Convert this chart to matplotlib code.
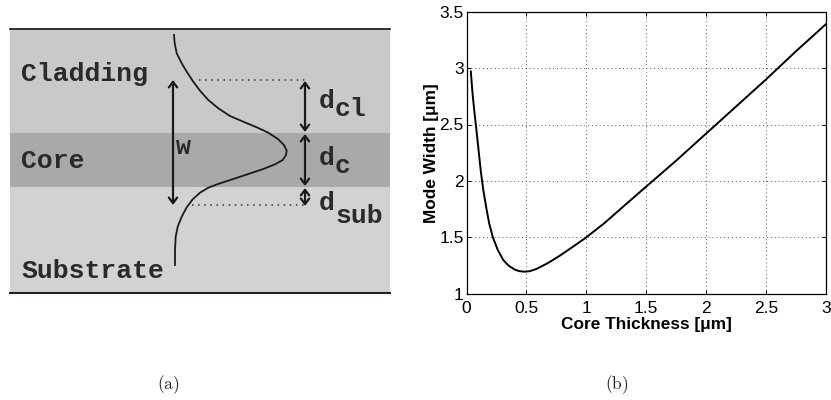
import matplotlib
matplotlib.use('Agg')
import matplotlib.pyplot as plt

W, H = 831, 400

# right panel: mode width vs core thickness
core_thickness = [0.036, 0.05, 0.065, 0.083, 0.10, 0.12, 0.14, 0.167, 0.19, 0.22, 0.26, 0.306, 0.35, 0.40, 0.44,
                  0.487, 0.53, 0.585, 0.68, 0.78, 0.90, 1.0, 1.15, 1.3, 1.5, 1.75, 2.0, 2.25, 2.5, 2.75, 3.0]
mode_width = [2.97, 2.78, 2.62, 2.45, 2.28, 2.08, 1.92, 1.75, 1.62, 1.50, 1.39, 1.30, 1.25, 1.215, 1.20,
              1.195, 1.20, 1.22, 1.272, 1.338, 1.425, 1.50, 1.625, 1.765, 1.95, 2.18, 2.42, 2.66, 2.90, 3.15, 3.39]
x_ticks = [0, 0.5, 1, 1.5, 2, 2.5, 3]
x_tick_labels = ['0', '0.5', '1', '1.5', '2', '2.5', '3']
y_ticks = [1, 1.5, 2, 2.5, 3, 3.5]
y_tick_labels = ['1', '1.5', '2', '2.5', '3', '3.5']

# left panel: mode profile sketch, in picture pixels
profile_x = [174, 174.7, 176.7, 181.7, 186.7, 193.3, 200, 208.3, 218.3, 230, 243.3, 256.7, 268.3, 278.3, 284, 286.7,
             286, 282.7, 275, 263.3, 248.3, 233.3, 220, 208.3, 200, 192.7, 186.7, 181.7, 177.7, 175.7, 175, 175]
profile_y = [35, 43.3, 53.3, 63.3, 71.7, 81.7, 90.7, 100, 108.3, 116, 121.7, 127.3, 132.7, 139.3, 145, 150.7,
             155, 160, 164.3, 169, 174, 179, 183.3, 187.7, 192.7, 199.3, 207.3, 216.7, 226.7, 236.7, 250, 265]
labels_left = ['Cladding', 'Core', 'Substrate']
label_y = [80.7, 168, 278]

fig = plt.figure(figsize=(W / 100, H / 100), dpi=100)
sketch = fig.add_axes([0, 0, 1, 1])
sketch.set_xlim(0, W)
sketch.set_ylim(H, 0)
sketch.axis('off')

# layers
sketch.fill_between([10, 390], 29, 133, color='#c8c9cb', lw=0)
sketch.fill_between([10, 390], 133, 187, color='#a8a9ab', lw=0)
sketch.fill_between([10, 390], 187, 293, color='#d1d2d4', lw=0)
sketch.plot([10, 390], [29, 29], color='#222222', lw=1.3)
sketch.plot([10, 390], [293, 293], color='#222222', lw=1.5)

sketch.plot(profile_x, profile_y, color='#1a1a1a', lw=1.3)

# dotted guides
sketch.plot([199, 305], [80, 80], color='#333333', lw=1.1, ls=(0, (1, 3)))
sketch.plot([192, 305], [205, 205], color='#333333', lw=1.1, ls=(0, (1, 3)))


def dbl_arrow(x, y0, y1):
    sketch.annotate('', xy=(x, y0), xytext=(x, y1),
                    arrowprops=dict(arrowstyle='<->,head_length=0.4,head_width=0.3',
                                    color='#1a1a1a', lw=1.6, shrinkA=0, shrinkB=0))


dbl_arrow(173, 80, 205)
dbl_arrow(305, 81, 132)
dbl_arrow(305, 134, 186)
dbl_arrow(305, 188, 206)

mono = dict(family='Liberation Mono', fontweight='bold', color='#2a2a2a', va='baseline', ha='left')
for name, y in zip(labels_left, label_y):
    sketch.text(21, y, name, fontsize=19, **mono)
sketch.text(176, 154, 'w', fontsize=18, **mono)
sketch.text(319, 108, 'd', fontsize=19, **mono)
sketch.text(335, 115.7, 'cl', fontsize=19, **mono)
sketch.text(319, 165, 'd', fontsize=19, **mono)
sketch.text(335, 173, 'c', fontsize=19, **mono)
sketch.text(319, 210, 'd', fontsize=19, **mono)
sketch.text(335, 222.7, 'sub', fontsize=19, **mono)

plt.rcParams['mathtext.fontset'] = 'cm'
sketch.text(168, 385, r'$\mathrm{(a)}$', fontsize=12.5, ha='center', va='center', color='#222222')
sketch.text(617, 385, r'$\mathrm{(b)}$', fontsize=12.5, ha='center', va='center', color='#222222')

# mode width plot
left, right, top, bottom = 466.5, 826, 11.7, 293.7
ax = fig.add_axes([left / W, 1 - bottom / H, (right - left) / W, (bottom - top) / H])
ax.plot(core_thickness, mode_width, color='black', lw=1.4)
ax.set_xlim(0, 3)
ax.set_ylim(1, 3.5)
ax.set_xticks(x_ticks)
ax.set_xticklabels(x_tick_labels)
ax.set_yticks(y_ticks)
ax.set_yticklabels(y_tick_labels)
ax.tick_params(direction='in', length=3, width=0.7, labelsize=12.5, top=True, right=True)
ax.tick_params(axis='x', pad=5)
ax.tick_params(axis='y', pad=2)
for lab in ax.get_xticklabels() + ax.get_yticklabels():
    lab.set_family('Liberation Sans')
ax.grid(True, color='#555555', lw=0.7, ls=(0, (1, 3)))
for s in ax.spines.values():
    s.set_linewidth(0.9)
ax.set_xlabel('Core Thickness [\u03bcm]', family='Liberation Sans', fontweight='bold', fontsize=12.4, labelpad=1)
ax.set_ylabel('Mode Width [\u03bcm]', family='Liberation Sans', fontweight='bold', fontsize=12.4, labelpad=0)

fig.savefig('out.png', dpi=100)
